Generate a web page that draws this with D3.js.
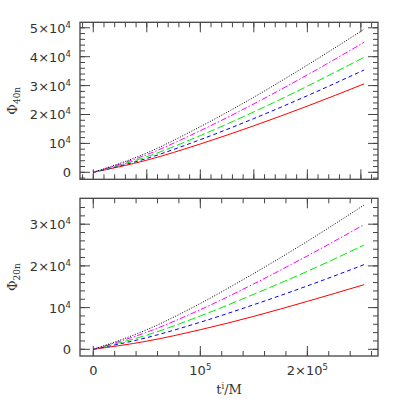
<!DOCTYPE html>
<html><head><meta charset="utf-8">
<script src="https://cdn.jsdelivr.net/npm/d3@7"></script>
<style>body{margin:0;background:#fff}svg{display:block}</style>
</head><body><svg id="c" width="399" height="399"></svg>
<script>
// ---- data ----
const t = [0, 50000, 100000, 150000, 200000, 253000];
const seriesNames = ["red", "blue", "green", "magenta", "black"];
// top panel Phi_40n
const phi40_red     = [0, 4200, 9800, 16100, 22900, 30600];
const phi40_blue    = [0, 4800, 11300, 18600, 26500, 35400];
const phi40_green   = [0, 5400, 12700, 20900, 29800, 39800];
const phi40_magenta = [0, 6100, 14400, 23700, 33700, 45000];
const phi40_black   = [0, 6700, 15800, 26000, 37100, 49500];
// bottom panel Phi_20n
const phi20_red     = [0, 1950, 4700, 7900, 11500, 15500];
const phi20_blue    = [0, 2800, 6500, 10700, 15200, 20300];
const phi20_green   = [0, 3400, 8000, 13200, 18700, 25000];
const phi20_magenta = [0, 4100, 9500, 15700, 22400, 29900];
const phi20_black   = [0, 4700, 11000, 18200, 25900, 34600];
// ticks
const xMajorTop = [0, 50000, 100000, 150000, 200000, 250000];
const xMinorTop = d3.range(-10000, 266000, 10000);
const xMajorBot = [0, 100000, 200000];
const xMinorBot = d3.range(0, 266000, 20000);
const xTickLabels = [["0",null,null],["10","5",null],["2×10","5",null]];
const yMajorTop = [0, 10000, 20000, 30000, 40000, 50000];
const yMinorTop = d3.range(-2000, 52000, 2000);
const yTickLabelsTop = [["0",null],["10","4"],["2×10","4"],["3×10","4"],["4×10","4"],["5×10","4"]];
const yMajorBot = [0, 10000, 20000, 30000];
const yMinorBot = d3.range(0, 36000, 2000);
const yTickLabelsBot = [["0",null],["10","4"],["2×10","4"],["3×10","4"]];

const colors = {red:"#ff0000", blue:"#0000ff", green:"#00ee00", magenta:"#ff00ff", black:"#000000"};
const dashes = {red:null, blue:"4,3", green:"8,3", magenta:"6,2,1.5,2", black:"1,1.6"};

const svg = d3.select("#c");
const font = "DejaVu Sans, sans-serif";
const x = d3.scaleLinear().domain([-12400, 266000]).range([80, 378]);
const yTop = d3.scaleLinear().domain([-2420, 51900]).range([179.3, 22.3]);
const yBot = d3.scaleLinear().domain([-1607, 36211]).range([356, 198.3]);

function panel(y, data, xMaj, xMin, yMaj, yMin, yLabels, showX, title, sub) {
  const g = svg.append("g");
  const [x0, x1] = x.range();
  const [yb, yt] = y.range();
  const frame = "#444";
  // ticks
  const drawT = (vals, isX, len) => {
    vals.forEach(v => {
      if (isX) {
        const px = x(v);
        if (px < x0 + 0.5 || px > x1 - 0.5) return;
        g.append("line").attr("x1", px).attr("x2", px).attr("y1", yb).attr("y2", yb - len).attr("stroke", frame).attr("stroke-width", 1);
        g.append("line").attr("x1", px).attr("x2", px).attr("y1", yt).attr("y2", yt + len).attr("stroke", frame).attr("stroke-width", 1);
      } else {
        const py = y(v);
        if (py > yb - 0.5 || py < yt + 0.5) return;
        g.append("line").attr("x1", x0).attr("x2", x0 + len).attr("y1", py).attr("y2", py).attr("stroke", frame).attr("stroke-width", 1);
        g.append("line").attr("x1", x1).attr("x2", x1 - len).attr("y1", py).attr("y2", py).attr("stroke", frame).attr("stroke-width", 1);
      }
    });
  };
  drawT(xMin, true, 5); drawT(xMaj, true, 10);
  drawT(yMin, false, 5); drawT(yMaj, false, 10);
  g.append("rect").attr("x", x0).attr("y", yt).attr("width", x1 - x0).attr("height", yb - yt)
    .attr("fill", "none").attr("stroke", frame).attr("stroke-width", 1.3);
  // y labels
  yMaj.forEach((v, i) => {
    const tx = g.append("text").attr("x", 71).attr("y", y(v) + 5).attr("text-anchor", "end")
      .attr("font-family", font).attr("font-size", 13).attr("fill", "#333");
    tx.append("tspan").text(yLabels[i][0]);
    if (yLabels[i][1]) tx.append("tspan").attr("font-size", 8.5).attr("dy", -5).text(yLabels[i][1]);
  });
  // title
  const ty = (yb + yt) / 2;
  const tt = g.append("text").attr("transform", `translate(17,${ty}) rotate(-90)`).attr("text-anchor", "middle")
    .attr("font-family", "DejaVu Serif, serif").attr("font-size", 13).attr("fill", "#333");
  tt.append("tspan").text(title);
  tt.append("tspan").attr("font-size", 9).attr("dy", 3).text(sub);
  // lines
  const line = d3.line().x((d, i) => x(t[i])).y(d => y(d)).curve(d3.curveMonotoneX);
  seriesNames.forEach(n => {
    g.append("path").attr("d", line(data[n])).attr("fill", "none").attr("stroke", colors[n])
      .attr("stroke-width", 1).attr("stroke-dasharray", dashes[n]);
  });
  if (showX) {
    xMaj.forEach((v, i) => {
      const tx = g.append("text").attr("x", x(v)).attr("y", 375).attr("text-anchor", "middle")
        .attr("font-family", font).attr("font-size", 13).attr("fill", "#333");
      tx.append("tspan").text(xTickLabels[i][0]);
      if (xTickLabels[i][1]) tx.append("tspan").attr("font-size", 8.5).attr("dy", -5).text(xTickLabels[i][1]);
    });
    const xt = g.append("text").attr("x", 229).attr("y", 394).attr("text-anchor", "middle")
      .attr("font-family", "DejaVu Serif, serif").attr("font-size", 13).attr("fill", "#333");
    xt.append("tspan").text("t");
    xt.append("tspan").attr("font-size", 8.5).attr("dy", -5).text("i");
    xt.append("tspan").attr("dy", 5).text("/M");
  }
}
panel(yTop, {red:phi40_red, blue:phi40_blue, green:phi40_green, magenta:phi40_magenta, black:phi40_black},
  xMajorTop, xMinorTop, yMajorTop, yMinorTop, yTickLabelsTop, false, "Φ", "40n");
panel(yBot, {red:phi20_red, blue:phi20_blue, green:phi20_green, magenta:phi20_magenta, black:phi20_black},
  xMajorBot, xMinorBot, yMajorBot, yMinorBot, yTickLabelsBot, true, "Φ", "20n");
</script></body></html>
